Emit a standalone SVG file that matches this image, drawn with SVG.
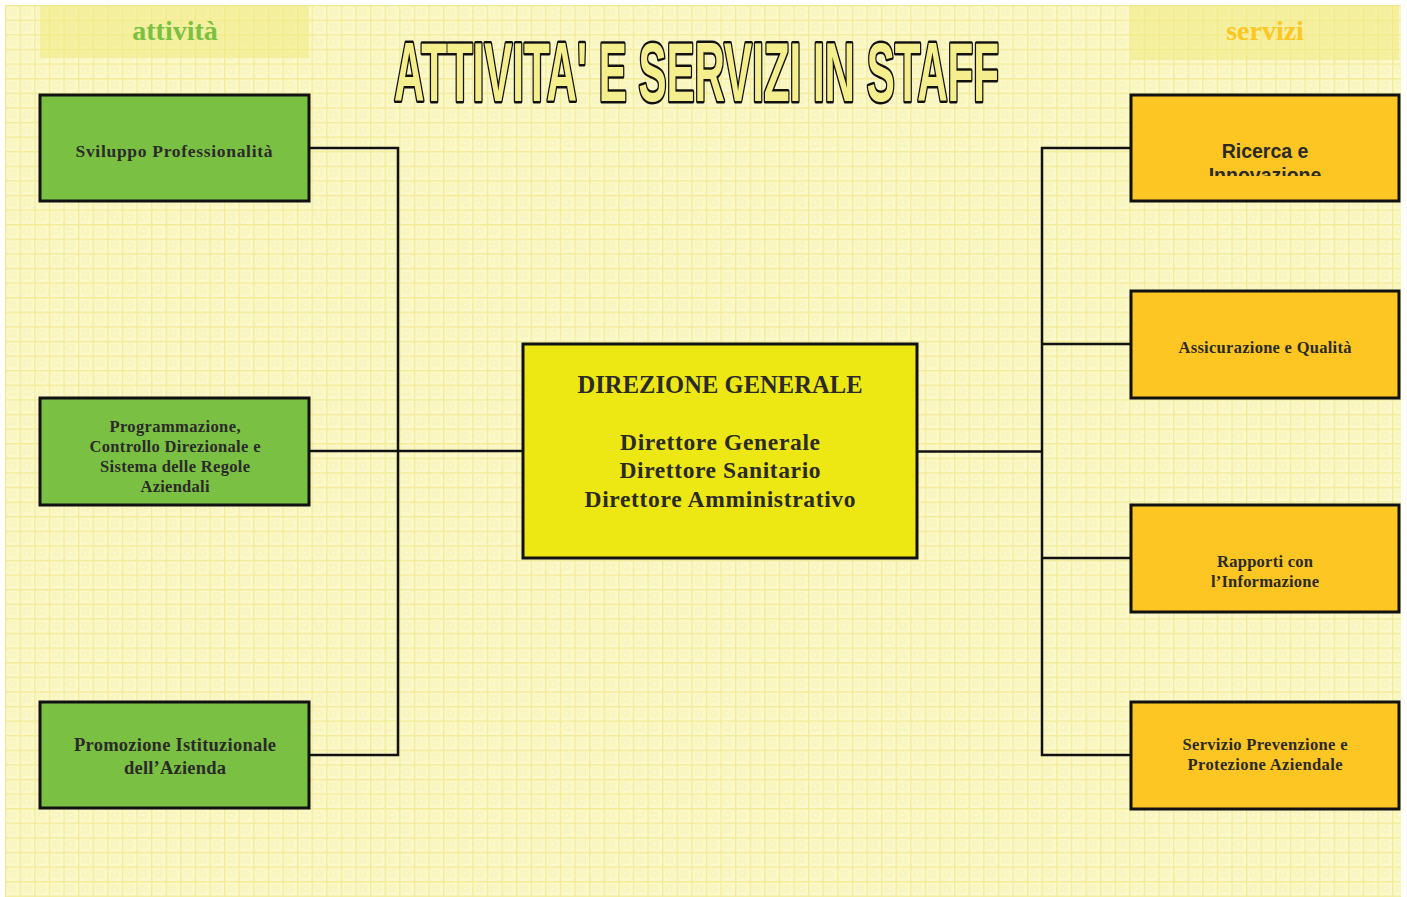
<svg xmlns="http://www.w3.org/2000/svg" width="1407" height="897" viewBox="0 0 1407 897">
  <defs>
    <pattern id="grid" x="5" y="5" width="14.6" height="14.6" patternUnits="userSpaceOnUse">
      <rect width="14.6" height="14.6" fill="#fbf8cc"/>
      <rect x="3" y="3" width="8.6" height="8.6" fill="#f8f3b4" opacity="0.6"/>
      <path d="M0 0.7H14.6M0.7 0V14.6" stroke="#f2ec95" stroke-width="1.3"/>
      <circle cx="7.3" cy="7.3" r="0.7" fill="#ffffff"/>
    </pattern>
    <clipPath id="clip-ricerca">
      <rect x="1133" y="96" width="264" height="80"/>
    </clipPath>
  </defs>
  <style>
    .box { stroke: #111111; stroke-width: 3; }
    .green { fill: #7ac143; }
    .orange { fill: #fdc623; }
    .centre { fill: #ede814; }
    .band { fill: #f1ea7f; opacity: 0.55; }
    .serif { font-family: "Liberation Serif", "Times New Roman", serif; font-weight: bold; fill: #2b2a29; text-anchor: middle; }
    .sans { font-family: "Liberation Sans", Arial, sans-serif; font-weight: bold; fill: #2b2a29; text-anchor: middle; }
    .link { fill: none; stroke: #111111; stroke-width: 2.5; }
  </style>

  <!-- page background -->
  <rect width="1407" height="897" fill="#ffffff"/>
  <rect x="5" y="5" width="1396" height="892" fill="url(#grid)"/>

  <!-- column headers -->
  <g id="header-attivita">
    <rect class="band" x="40" y="5" width="269" height="53"/>
    <text x="175" y="40" font-family="Liberation Serif, serif" font-weight="bold" font-size="28" fill="#7ac143" text-anchor="middle">attività</text>
  </g>
  <g id="header-servizi">
    <rect class="band" x="1130" y="5" width="269" height="55"/>
    <text x="1265" y="40" font-family="Liberation Serif, serif" font-weight="bold" font-size="28" fill="#fdc623" text-anchor="middle">servizi</text>
  </g>

  <!-- title -->
  <g id="title">
    <text x="394" y="101" font-family="Liberation Sans, Arial, sans-serif" font-weight="bold" font-size="84" textLength="605" lengthAdjust="spacingAndGlyphs" fill="#f4ef8c" stroke="#111111" stroke-width="5" stroke-linejoin="round" paint-order="stroke">ATTIVITA' E SERVIZI IN STAFF</text>
  </g>

  <!-- connectors -->
  <g id="connectors">
    <path class="link" d="M309 148H398V755H309"/>
    <path class="link" d="M309 451H523"/>
    <path class="link" d="M1131 148H1042V755H1131"/>
    <path class="link" d="M917 451.5H1042"/>
    <path class="link" d="M1042 344H1131"/>
    <path class="link" d="M1042 558H1131"/>
  </g>

  <!-- left column -->
  <g id="sviluppo">
    <rect class="box green" x="40" y="95" width="269" height="106"/>
    <text class="serif" x="174" y="157" font-size="17.5" textLength="197" lengthAdjust="spacing">Sviluppo Professionalità</text>
  </g>
  <g id="programmazione">
    <rect class="box green" x="40" y="398" width="269" height="107"/>
    <text class="serif" x="175" y="432" font-size="16.5" textLength="131" lengthAdjust="spacing">Programmazione,</text>
    <text class="serif" x="175" y="452" font-size="16.5" textLength="171" lengthAdjust="spacing">Controllo Direzionale e</text>
    <text class="serif" x="175" y="472" font-size="16.5" textLength="150" lengthAdjust="spacing">Sistema delle Regole</text>
    <text class="serif" x="175" y="492" font-size="16.5" textLength="69" lengthAdjust="spacing">Aziendali</text>
  </g>
  <g id="promozione">
    <rect class="box green" x="40" y="702" width="269" height="106"/>
    <text class="serif" x="175" y="751" font-size="18.5" textLength="202" lengthAdjust="spacing">Promozione Istituzionale</text>
    <text class="serif" x="175" y="774" font-size="18.5" textLength="102" lengthAdjust="spacing">dell’Azienda</text>
  </g>

  <!-- centre -->
  <g id="direzione">
    <rect class="box centre" x="523" y="344" width="394" height="214"/>
    <text class="serif" x="720" y="393" font-size="24.5" textLength="285" lengthAdjust="spacing">DIREZIONE GENERALE</text>
    <text class="serif" x="720" y="450" font-size="23.5" textLength="200" lengthAdjust="spacing">Direttore Generale</text>
    <text class="serif" x="720" y="478" font-size="23.5" textLength="201" lengthAdjust="spacing">Direttore Sanitario</text>
    <text class="serif" x="720" y="507" font-size="23.5" textLength="271" lengthAdjust="spacing">Direttore Amministrativo</text>
  </g>

  <!-- right column -->
  <g id="ricerca">
    <rect class="box orange" x="1131" y="95" width="268" height="106"/>
    <g clip-path="url(#clip-ricerca)">
      <text class="sans" x="1265" y="158" font-size="19.5">Ricerca e</text>
      <text class="sans" x="1265" y="182" font-size="19.5">Innovazione</text>
    </g>
  </g>
  <g id="assicurazione">
    <rect class="box orange" x="1131" y="291" width="268" height="107"/>
    <text class="serif" x="1265" y="353" font-size="16.5" textLength="173" lengthAdjust="spacing">Assicurazione e Qualità</text>
  </g>
  <g id="rapporti">
    <rect class="box orange" x="1131" y="505" width="268" height="107"/>
    <text class="serif" x="1265" y="567" font-size="16.5" textLength="96" lengthAdjust="spacing">Rapporti con</text>
    <text class="serif" x="1265" y="587" font-size="16.5" textLength="108" lengthAdjust="spacing">l’Informazione</text>
  </g>
  <g id="prevenzione">
    <rect class="box orange" x="1131" y="702" width="268" height="107"/>
    <text class="serif" x="1265" y="750" font-size="16.5" textLength="165" lengthAdjust="spacing">Servizio Prevenzione e</text>
    <text class="serif" x="1265" y="770" font-size="16.5" textLength="155" lengthAdjust="spacing">Protezione Aziendale</text>
  </g>
</svg>
